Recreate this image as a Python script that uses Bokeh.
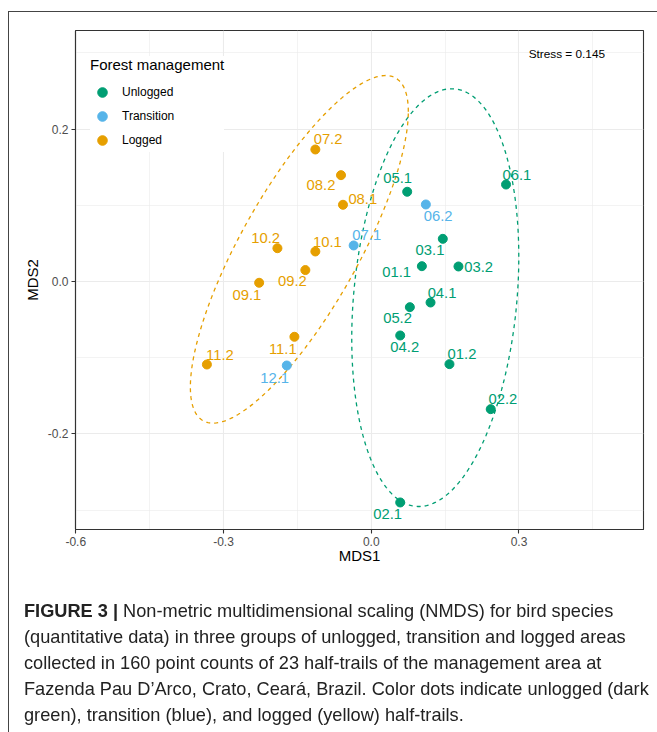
import numpy as np
from bokeh.plotting import figure
from bokeh.models import (ColumnDataSource, Legend, LegendItem, Label, FixedTicker,
                          Div, Range1d)
from bokeh.layouts import column
from bokeh.embed import file_html
from bokeh.resources import INLINE
from bokeh.core.properties import value

# ---------------- data ----------------
GROUPS = ["Unlogged", "Transition", "Logged"]
COLORS = ["#009E73", "#56B4E9", "#E69F00"]

UNLOGGED_IDS = ["01.1", "01.2", "02.1", "02.2", "03.1", "03.2", "04.1", "04.2", "05.1", "05.2", "06.1"]
UNLOGGED_MDS1 = [0.1028, 0.1588, 0.0588, 0.2426, 0.1453, 0.1771, 0.1204, 0.0588, 0.0730, 0.0784, 0.2737]
UNLOGGED_MDS2 = [0.0201, -0.1085, -0.2901, -0.1676, 0.0560, 0.0197, -0.0276, -0.0709, 0.1178, -0.0337, 0.1273]

TRANSITION_IDS = ["06.2", "07.1", "12.1"]
TRANSITION_MDS1 = [0.1109, -0.0357, -0.1715]
TRANSITION_MDS2 = [0.1011, 0.0473, -0.1103]

LOGGED_IDS = ["07.2", "08.1", "08.2", "09.1", "09.2", "10.1", "10.2", "11.1", "11.2"]
LOGGED_MDS1 = [-0.1135, -0.0574, -0.0614, -0.2276, -0.1338, -0.1135, -0.1905, -0.1560, -0.3337]
LOGGED_MDS2 = [0.1733, 0.1007, 0.1396, -0.0017, 0.0150, 0.0394, 0.0437, -0.0726, -0.1090]

# 95% ellipses (centre and covariance-like shape matrix), Unlogged and Logged
ELLIPSE_GROUPS = ["Unlogged", "Logged"]
ELLIPSE_CX = [0.130, -0.146]
ELLIPSE_CY = [-0.0212, 0.0422]
ELLIPSE_SXX = [0.02876, 0.04896]
ELLIPSE_SYY = [0.07519, 0.05208]
ELLIPSE_SXY = [0.0091, 0.0400]

X_TICKS = [-0.6, -0.3, 0.0, 0.3]
X_TICK_LABELS = ["-0.6", "-0.3", "0.0", "0.3"]
Y_TICKS = [-0.2, 0.0, 0.2]
Y_TICK_LABELS = ["-0.2", "0.0", "0.2"]
X_MINOR = [-0.45, -0.15, 0.15, 0.45]
Y_MINOR = [-0.3, -0.1, 0.1, 0.3]

STRESS_TEXT = "Stress =  0.145"
LEGEND_TITLE = "Forest management"
X_TITLE = "MDS1"
Y_TITLE = "MDS2"

CAPTION_BOLD = "FIGURE 3 |"
CAPTION_LINES = [
    " Non-metric multidimensional scaling (NMDS) for bird species",
    "(quantitative data) in three groups of unlogged, transition and logged areas",
    "collected in 160 point counts of 23 half-trails of the management area at",
    "Fazenda Pau D\u2019Arco, Crato, Cear\u00e1, Brazil. Color dots indicate unlogged (dark",
    "green), transition (blue), and logged (yellow) half-trails.",
]

# label offsets in screen pixels (placement only)
LABEL_DX = {
    "01.1": -25.2, "01.2": 12.5, "02.1": -12.6, "02.2": 12.2, "03.1": -12.8, "03.2": 20.1,
    "04.1": 11.5, "04.2": 4.5, "05.1": -9.6, "05.2": -12.3, "06.1": 10.9, "06.2": 12.3,
    "07.1": 13.1, "12.1": -12.2, "07.2": 12.7, "08.1": 19.8, "08.2": -20.0, "09.1": -12.2,
    "09.2": -13.0, "10.1": 12.0, "10.2": -11.8, "11.1": -11.6, "11.2": 13.0,
}
LABEL_DY = {
    "01.1": 5.6, "01.2": -9.7, "02.1": 11.8, "02.2": -10.4, "03.1": 11.4, "03.2": 1.0,
    "04.1": -10.0, "04.2": 11.2, "05.1": -13.3, "05.2": 11.3, "06.1": -10.0, "06.2": 11.3,
    "07.1": -10.3, "12.1": 12.0, "07.2": -10.7, "08.1": -6.0, "08.2": 9.6, "09.1": 12.0,
    "09.2": 11.3, "10.1": -9.3, "10.2": -10.4, "11.1": 12.0, "11.2": -9.8,
}

FONT = "Liberation Sans"
FIG_W, FIG_H = 649, 578

# ---------------- figure ----------------
p = figure(width=FIG_W, height=FIG_H,
           x_range=Range1d(-0.6005, 0.5528), y_range=Range1d(-0.3256, 0.3295),
           output_backend="svg", toolbar_location=None,
           min_border_left=75, min_border_right=6, min_border_top=30, min_border_bottom=49)
p.background_fill_color = "white"
p.border_fill_color = "white"
p.outline_line_color = "#333333"
p.outline_line_width = 1.1

for ax, ticks, labels, minor in ((p.xaxis[0], X_TICKS, X_TICK_LABELS, X_MINOR),
                                 (p.yaxis[0], Y_TICKS, Y_TICK_LABELS, Y_MINOR)):
    ax.ticker = FixedTicker(ticks=ticks, minor_ticks=minor)
    ax.major_label_overrides = {t: l for t, l in zip(ticks, labels)}
    ax.axis_line_color = "#333333"
    ax.axis_line_width = 1.1
    ax.major_tick_line_color = "#333333"
    ax.major_tick_line_width = 1.1
    ax.major_tick_out = 4
    ax.major_tick_in = 0
    ax.minor_tick_line_color = None
    ax.major_label_text_font = FONT
    ax.major_label_text_font_size = "12px"
    ax.major_label_text_color = "#4D4D4D"
    ax.major_label_standoff = 3
    ax.axis_label_text_font = FONT
    ax.axis_label_text_font_size = "15px"
    ax.axis_label_text_font_style = "normal"
    ax.axis_label_text_color = "black"
p.xaxis.axis_label_standoff = -2
p.yaxis.axis_label_standoff = 4

p.xaxis.axis_label = X_TITLE
p.yaxis.axis_label = Y_TITLE

for g in (p.xgrid[0], p.ygrid[0]):
    g.grid_line_color = "#EBEBEB"
    g.grid_line_width = 1.1
    g.minor_grid_line_color = "#EBEBEB"
    g.minor_grid_line_width = 0.6
p.xgrid.ticker = FixedTicker(ticks=X_TICKS, minor_ticks=X_MINOR)
p.ygrid.ticker = FixedTicker(ticks=Y_TICKS, minor_ticks=Y_MINOR)

# ellipses
t = np.linspace(0, 2 * np.pi, 241)
for i, g in enumerate(ELLIPSE_GROUPS):
    M = np.array([[ELLIPSE_SXX[i], ELLIPSE_SXY[i]], [ELLIPSE_SXY[i], ELLIPSE_SYY[i]]])
    L = np.linalg.cholesky(M)
    pts = L @ np.vstack([np.cos(t), np.sin(t)])
    ex = ELLIPSE_CX[i] + pts[0]
    ey = ELLIPSE_CY[i] + pts[1]
    col = COLORS[GROUPS.index(g)]
    p.line(ex, ey, line_color=col, line_width=1.3, line_dash="4 4")

# points + labels
group_data = {
    "Unlogged": (UNLOGGED_IDS, UNLOGGED_MDS1, UNLOGGED_MDS2),
    "Transition": (TRANSITION_IDS, TRANSITION_MDS1, TRANSITION_MDS2),
    "Logged": (LOGGED_IDS, LOGGED_MDS1, LOGGED_MDS2),
}
renderers = {}
for g, col in zip(GROUPS, COLORS):
    ids, xs, ys = group_data[g]
    src = ColumnDataSource(dict(x=xs, y=ys, label=ids,
                                dx=[LABEL_DX[k] for k in ids],
                                dy=[LABEL_DY[k] for k in ids]))
    r = p.scatter("x", "y", source=src, size=9, marker="circle",
                  fill_color=col, line_color=col)
    renderers[g] = r
    p.text("x", "y", text="label", source=src, x_offset="dx", y_offset="dy",
           text_color=col, text_font=value(FONT), text_font_size="14.8px",
           text_align="center", text_baseline="middle")

stress = Label(x=0.3196, y=0.2993, text=STRESS_TEXT, text_font=FONT,
               text_font_size="11.8px", text_color="black",
               text_align="left", text_baseline="middle")
p.add_layout(stress)

legend = Legend(items=[LegendItem(label=g, renderers=[renderers[g]]) for g in GROUPS],
                location=(15, 377), title=LEGEND_TITLE,
                title_text_font=FONT, title_text_font_size="15px",
                title_text_font_style="normal", title_text_color="black",
                title_standoff=7,
                label_text_font=FONT, label_text_font_size="12px", label_text_color="black",
                glyph_width=24, glyph_height=24, spacing=0, padding=8, label_standoff=8,
                border_line_color=None, background_fill_color="white",
                background_fill_alpha=1.0, margin=0)
p.add_layout(legend)

# ---------------- caption and outer figure rules (fixed page positions) ----------------
CAP_LEFT, CAP_FIRST, CAP_STEP = 24, 611, 26
parts = [
    '<div style="position:fixed;left:8px;top:11px;width:700px;height:1px;background:#444444"></div>',
    '<div style="position:fixed;left:8px;top:11px;width:1px;height:740px;background:#444444"></div>',
]
for i, txt in enumerate(CAPTION_LINES):
    inner = (f"<b>{CAPTION_BOLD}</b>{txt}" if i == 0 else txt)
    top = CAP_FIRST + i * CAP_STEP - 9
    parts.append(
        f'<div style="position:fixed;left:{CAP_LEFT}px;top:{top}px;line-height:18px;'
        f'white-space:nowrap;font-family:\'{FONT}\',Arial,sans-serif;font-size:18.2px;color:#222">'
        f'{inner}</div>')
cap = Div(text="".join(parts), width=FIG_W, height=20, margin=0)

layout = column(p, cap, spacing=0)

open("out.html", "w").write(file_html(layout, INLINE))
